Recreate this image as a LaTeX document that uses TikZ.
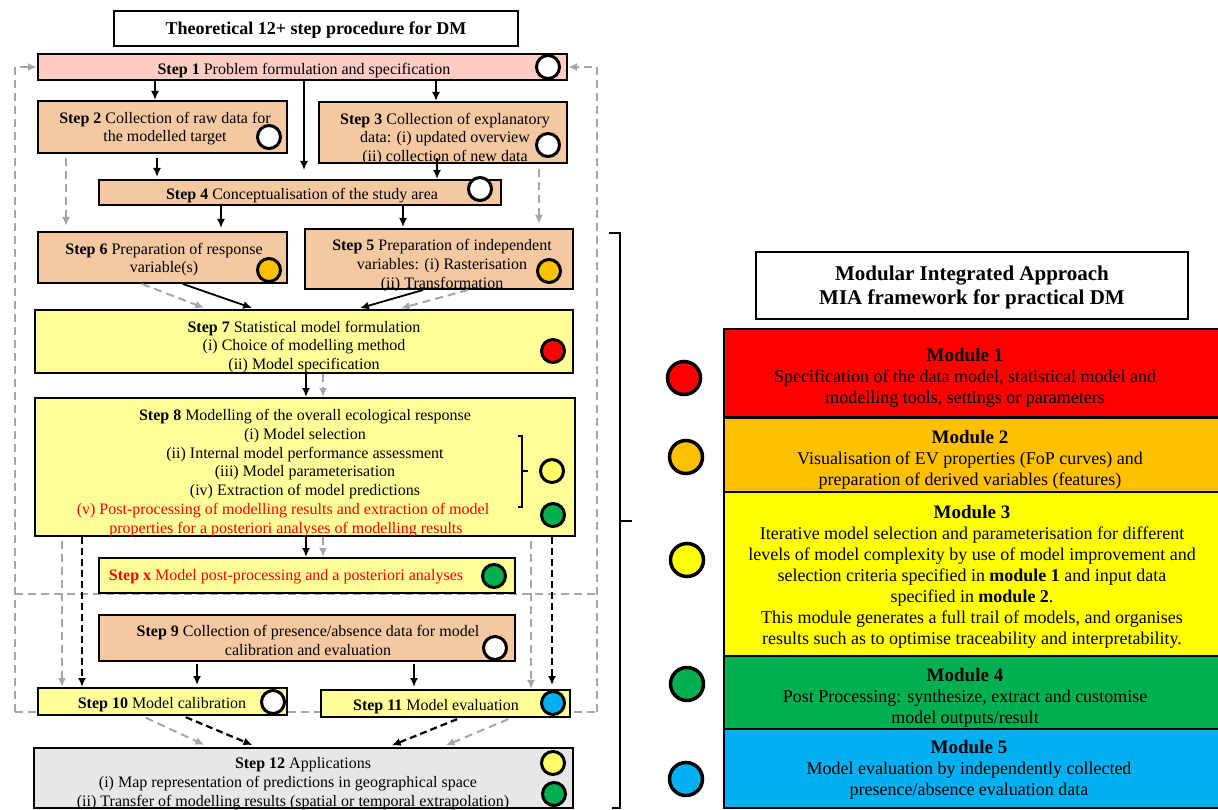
\documentclass[tikz,border=0pt]{standalone}
\usepackage{fontspec}
\setmainfont{Liberation Serif}
\usetikzlibrary{arrows.meta,calc}
\definecolor{tanc}{HTML}{F4C9A2}
\definecolor{pinkc}{HTML}{FFCCC4}
\definecolor{lyel}{HTML}{FFFF99}
\definecolor{grayc}{HTML}{A6A6A6}
\definecolor{lgray}{HTML}{E7E7E7}
\definecolor{orgc}{HTML}{FFC000}
\definecolor{grnc}{HTML}{00B050}
\definecolor{bluc}{HTML}{00B0F0}
\definecolor{cyel}{HTML}{FFFF66}
\definecolor{redc}{HTML}{FF0000}
\definecolor{yelc}{HTML}{FFFF00}
\begin{document}
\begin{tikzpicture}[x=1pt,y=-1pt,
  box/.style={draw, line width=2pt, inner sep=0pt},
  mbox/.style={draw, line width=2.5pt, inner sep=0pt, minimum width=502pt},
  txt/.style={font=\fontsize{16}{18.7}\selectfont, align=center, inner sep=0pt},
  mtxt/.style={font=\fontsize{18}{21}\selectfont, align=center, inner sep=0pt},
  dot/.style={circle, draw, line width=3pt, minimum size=23pt, inner sep=0pt},
  bigdot/.style={circle, draw, line width=3.5pt, minimum size=33pt, inner sep=0pt},
  arr/.style={-{Latex[length=9pt,width=8pt]}, line width=1.8pt},
  garr/.style={draw=grayc, dash pattern=on 8pt off 5pt, line width=2pt, -{Latex[length=9pt,width=8pt]}},
  gdash/.style={draw=grayc, dash pattern=on 8pt off 5pt, line width=2pt},
  bdarr/.style={draw=black, dash pattern=on 7pt off 4pt, line width=2.2pt, -{Latex[length=9pt,width=8pt]}},
  brk/.style={line width=2pt}
]
\path[use as bounding box] (0,0) rectangle (1218,810);
\clip (0,0) rectangle (1218,810);

% helper x positions
\foreach \v in {62,66,82,142,155,157,183,197,207,209,221,255,257,304,306,323,357,388,398,403,414,423,436,437,442,460,468,511,531,539,552}
  \coordinate (x\v) at (\v,0);
\coordinate (lb) at (15,712);
\coordinate (rb) at (597,712);
\coordinate (lm) at (15,594);
\coordinate (rm) at (597,594);

% boxes
\node[box, fill=white, minimum width=404pt, minimum height=35pt] (title) at (316,28.5) {};
\node[box, fill=pinkc, minimum width=529pt, minimum height=26pt] (s1) at (302.5,67) {};

% background dashed loops (behind boxes)
\draw[garr] (lb) |- (s1.west);
\draw[garr] (rb) |- (s1.east);
\draw[gdash] (lm) -- (rm);
\draw[gdash] (lb) -- (rb);

\node[box, fill=tanc, minimum width=249pt, minimum height=52pt] (s2) at (162.5,127) {};
\node[box, fill=tanc, minimum width=248pt, minimum height=61pt] (s3) at (443,132.5) {};
\node[box, fill=tanc, minimum width=402pt, minimum height=25pt] (s4) at (300,192.5) {};
\node[box, fill=tanc, minimum width=249pt, minimum height=51pt] (s6) at (162.5,257.5) {};
\node[box, fill=tanc, minimum width=268pt, minimum height=60pt] (s5) at (439,259) {};
\node[box, fill=lyel, minimum width=538pt, minimum height=63pt] (s7) at (304,341.5) {};
\node[box, fill=lyel, minimum width=540pt, minimum height=138pt] (s8) at (305,467) {};
\node[box, fill=lyel, minimum width=416pt, minimum height=35pt] (sx) at (307,575.5) {};
\node[box, fill=tanc, minimum width=416pt, minimum height=46pt] (s9) at (307,638) {};
\node[box, fill=lyel, minimum width=249pt, minimum height=27pt] (s10) at (162.5,701.5) {};
\node[box, fill=lyel, minimum width=249pt, minimum height=27pt] (s11) at (445.5,703.5) {};
\node[box, fill=lgray, minimum width=539pt, minimum height=60pt] (s12) at (303.5,778) {};

% texts
\node[txt, font=\bfseries\fontsize{18}{21}\selectfont] (titlet) at (316,30) {Theoretical 12+ step procedure for DM};
\node[txt] (s1t) at (304,70.5) {\textbf{Step 1} Problem formulation and specification};
\node[txt] (s2t) at (165,128.5) {\textbf{Step 2} Collection of raw data for\\the modelled target};
\node[txt] (s3t) at (445,139) {\textbf{Step 3} Collection of explanatory\\data: (i) updated overview\\(ii) collection of new data};
\node[txt] (s4t) at (302,196) {\textbf{Step 4} Conceptualisation of the study area};
\node[txt] (s6t) at (164,259.5) {\textbf{Step 6} Preparation of response\\variable(s)};
\node[txt] (s5t) at (442,265.5) {\textbf{Step 5} Preparation of independent\\variables: (i) Rasterisation\\(ii) Transformation};
\node[txt] (s7t) at (304,347) {\textbf{Step 7} Statistical model formulation\\(i) Choice of modelling method\\(ii) Model specification};
\node[txt] (s8t) at (305,473) {\textbf{Step 8} Modelling of the overall ecological response\\(i) Model selection\\(ii) Internal model performance assessment\\(iii) Model parameterisation\\(iv) Extraction of model predictions\\\textcolor{redc}{(v) Post-processing of modelling results and extraction of model}\hspace*{44pt}\mbox{}\\\textcolor{redc}{properties for a posteriori analyses of modelling results}\hspace*{38pt}\mbox{}};
\node[txt, text=redc] (sxt) at (286,577) {\textbf{Step x} Model post-processing and a posteriori analyses};
\node[txt] (s9t) at (308,640.5) {\textbf{Step 9} Collection of presence/absence data for model\\calibration and evaluation};
\node[txt] (s10t) at (162,705) {\textbf{Step 10} Model calibration};
\node[txt] (s11t) at (436,707) {\textbf{Step 11} Model evaluation};
\node[txt] (s12t) at (293,783.5) {\hspace*{20pt}\textbf{Step 12} Applications\\(i) Map representation of predictions in geographical space\hspace*{10pt}\mbox{}\\(ii) Transfer of modelling results (spatial or temporal extrapolation)};

% solid arrows
\draw[arr] (s1.south -| x155) -- (s2.north -| x155);
\draw[arr, shorten >=9pt] (s1.south -| x304) -- (s4.north -| x304);
\draw[arr] (s1.south -| x436) -- (s3.north -| x436);
\draw[arr, shorten <=4pt, shorten >=2pt] (s2.south -| x157) -- (s4.north -| x157);
\draw[arr] ([yshift=6pt]s3.south -| x437) -- (s4.north -| x437);
\draw[arr, shorten >=3pt] (s4.south -| x221) -- (s6.north -| x221);
\draw[arr, shorten >=1pt] (s4.south -| x403) -- (s5.north -| x403);
\draw[gdash, -{Latex[length=9pt,width=8pt]}, shorten >=3pt] (s6.south -| x142) -- (s7.north -| x207);
\draw[arr, shorten >=3pt] (s6.south -| x183) -- (s7.north -| x255);
\draw[gdash, -{Latex[length=9pt,width=8pt]}, shorten >=3pt] (s5.south -| x468) -- (s7.north -| x398);
\draw[arr, shorten >=3pt] (s5.south -| x423) -- (s7.north -| x357);
\draw[arr] (s7.south -| x306) -- (s8.north -| x306);
\draw[garr] (s7.south -| x323) -- (s8.north -| x323);
\draw[arr] (s8.south -| x306) -- (sx.north -| x306);
\draw[garr] (s8.south -| x323) -- (sx.north -| x323);
\draw[arr, shorten <=2pt, shorten >=2pt] (s9.south -| x197) -- (s10.north -| x197);
\draw[arr, shorten <=2pt, shorten >=2pt] (s9.south -| x414) -- (s11.north -| x414);

% gray dashed side arrows
\draw[garr, shorten <=4pt, shorten >=5pt] (s2.south -| x66) -- (s6.north -| x66);
\draw[garr, shorten <=5pt, shorten >=4pt] (s3.south -| x539) -- (s5.north -| x539);
\draw[garr, shorten <=4pt] (s8.south -| x62) -- (s10.north -| x62);
\draw[garr, shorten <=4pt] (s8.south -| x531) -- (s11.north -| x531);

% black dashed arrows
\draw[bdarr] (s8.south -| x82) -- (s10.north -| x82);
\draw[bdarr, shorten >=4pt] (s8.south -| x552) -- (s11.north -| x552);
\draw[gdash, -{Latex[length=9pt,width=8pt]}, shorten <=4pt, shorten >=5pt] (s10.south -| x142) -- (s12.north -| x209);
\draw[bdarr, shorten <=3pt, shorten >=5pt] (s10.south -| x183) -- (s12.north -| x257);
\draw[gdash, -{Latex[length=9pt,width=8pt]}, shorten <=3pt, shorten >=4pt] (s11.south -| x511) -- (s12.north -| x442);
\draw[bdarr, shorten <=3pt, shorten >=4pt] (s11.south -| x460) -- (s12.north -| x388);

% step 8 bracket
\draw[brk] (518,436) -- (522,436) -- (522,507) -- (518,507);
\draw[brk] (522,471) -- (528,471);

% circles on the left
\node[dot, fill=white] (c1) at (548,67) {};
\node[dot, fill=white] (c2) at (269,137) {};
\node[dot, fill=white] (c3) at (548,145) {};
\node[dot, fill=white] (c4) at (480,189) {};
\node[dot, fill=orgc] (c6) at (269,270) {};
\node[dot, fill=orgc] (c5) at (549,271) {};
\node[dot, fill=redc] (c7) at (553,351) {};
\node[dot, fill=cyel] (c8a) at (552,471) {};
\node[dot, fill=grnc] (c8b) at (553,515) {};
\node[dot, fill=grnc] (cx) at (494,576) {};
\node[dot, fill=white] (c9) at (495,648) {};
\node[dot, fill=white] (c10) at (273,702) {};
\node[dot, fill=bluc] (c11) at (553,703) {};
\node[dot, fill=cyel] (c12a) at (553,763) {};
\node[dot, fill=grnc] (c12b) at (554,794) {};

% big bracket
\draw[line width=2.5pt] (609,233) -- (620,233) -- (620,808) -- (612,808);
\draw[line width=2.5pt] (620,521) -- (632,521);

% right side
\node[box, fill=white, minimum width=432pt, minimum height=67pt] (mia) at (972,285.5) {};
\node[txt, font=\bfseries\fontsize{21}{24}\selectfont] (miat) at (972,287) {Modular Integrated Approach\\MIA framework for practical DM};

\node[mbox, fill=redc, minimum height=88pt] (m1) at (975,373) {};
\node[mbox, fill=orgc, minimum height=74pt] (m2) at (975,455) {};
\node[mbox, fill=yelc, minimum height=164pt] (m3) at (975,574) {};
\node[mbox, fill=grnc, minimum height=73pt] (m4) at (975,692.5) {};
\node[mbox, fill=bluc, minimum height=79pt] (m5) at (975,768.5) {};

\node[mtxt] (m1t) at (965,378) {\textbf{\fontsize{19}{21}\selectfont Module 1}\\Specification of the data model, statistical model and\\modelling tools, settings or parameters};
\node[mtxt] (m2t) at (970,460) {\textbf{\fontsize{19}{21}\selectfont Module 2}\\Visualisation of EV properties (FoP curves) and\\preparation of derived variables (features)};
\node[mtxt] (m3t) at (972,577) {\textbf{\fontsize{19}{21}\selectfont Module 3}\\Iterative model selection and parameterisation for different\\levels of model complexity by use of model improvement and\\selection criteria specified in \textbf{module 1} and input data\\specified in \textbf{module 2}.\\This module generates a full trail of models, and organises\\results such as to optimise traceability and interpretability.};
\node[mtxt] (m4t) at (965,698) {\textbf{\fontsize{19}{21}\selectfont Module 4}\\Post Processing: synthesize, extract and customise\\model outputs/result};
\node[mtxt] (m5t) at (969,770) {\textbf{\fontsize{19}{21}\selectfont Module 5}\\Model evaluation by independently collected\\presence/absence evaluation data};

\node[bigdot, fill=redc] (r1) at (684,378) {};
\node[bigdot, fill=orgc] (r2) at (686,457) {};
\node[bigdot, fill=yelc] (r3) at (687,560) {};
\node[bigdot, fill=grnc] (r4) at (687,684) {};
\node[bigdot, fill=bluc] (r5) at (686,779) {};
\end{tikzpicture}
\end{document}
